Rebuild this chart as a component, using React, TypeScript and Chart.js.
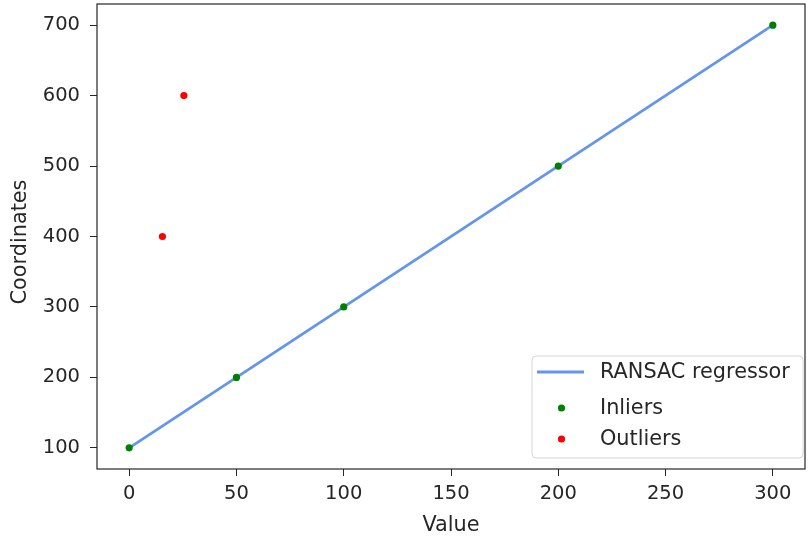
import React, { useEffect, useRef } from "react";
import { Chart, registerables } from "chart.js";

Chart.register(...registerables);

const lineX = [0, 300];
const lineY = [100, 700];
const inlierX = [0, 50, 100, 200, 300];
const inlierY = [100, 200, 300, 500, 700];
const outlierX = [15.5, 25.5];
const outlierY = [400, 600];
const xTicks = [0, 50, 100, 150, 200, 250, 300];
const yTicks = [100, 200, 300, 400, 500, 600, 700];
const seriesNames = ["RANSAC regressor", "Inliers", "Outliers"];
const seriesColors = ["#6495ED", "#008000", "#ff0000"];
const xTitle = "Value";
const yTitle = "Coordinates";

const FONT = "'DejaVu Sans', sans-serif";
const TEXT = "#262626";

const frameAndLegend = {
  id: "frameAndLegend",
  afterDraw(chart: any) {
    const { ctx, chartArea } = chart;
    ctx.save();
    ctx.strokeStyle = "#262626";
    ctx.lineWidth = 1.2;
    ctx.strokeRect(chartArea.left, chartArea.top, chartArea.right - chartArea.left, chartArea.bottom - chartArea.top);

    // y title
    ctx.save();
    ctx.translate(20.5, 242);
    ctx.rotate(-Math.PI / 2);
    ctx.font = `20.8px ${FONT}`;
    ctx.fillStyle = TEXT;
    ctx.textAlign = "center";
    ctx.textBaseline = "middle";
    ctx.fillText(yTitle, 0, 0);
    ctx.restore();

    // legend
    const bx = 532, by = 356, bw = 271, bh = 102, r = 4;
    ctx.beginPath();
    ctx.moveTo(bx + r, by);
    ctx.arcTo(bx + bw, by, bx + bw, by + bh, r);
    ctx.arcTo(bx + bw, by + bh, bx, by + bh, r);
    ctx.arcTo(bx, by + bh, bx, by, r);
    ctx.arcTo(bx, by, bx + bw, by, r);
    ctx.closePath();
    ctx.fillStyle = "rgba(255,255,255,0.8)";
    ctx.fill();
    ctx.strokeStyle = "#d5d5d5";
    ctx.lineWidth = 1;
    ctx.stroke();

    const rows = [372, 408, 439];
    ctx.font = `20.8px ${FONT}`;
    ctx.textBaseline = "middle";
    ctx.textAlign = "left";
    rows.forEach((y, i) => {
      if (i === 0) {
        ctx.strokeStyle = seriesColors[0];
        ctx.lineWidth = 2.8;
        ctx.beginPath();
        ctx.moveTo(537, y);
        ctx.lineTo(584, y);
        ctx.stroke();
      } else {
        ctx.fillStyle = seriesColors[i];
        ctx.beginPath();
        ctx.arc(561.5, y, 3.6, 0, Math.PI * 2);
        ctx.fill();
      }
      ctx.fillStyle = TEXT;
      ctx.fillText(seriesNames[i], 600, y + 1);
    });
    ctx.restore();
  },
};

export default function App() {
  const ref = useRef<HTMLCanvasElement | null>(null);
  useEffect(() => {
    if (!ref.current) return;
    const toPts = (xs: number[], ys: number[]) => xs.map((x, i) => ({ x, y: ys[i] }));
    const chart = new Chart(ref.current, {
      type: "scatter",
      data: {
        datasets: [
          {
            label: seriesNames[1],
            data: toPts(inlierX, inlierY),
            backgroundColor: seriesColors[1],
            borderWidth: 0,
            pointRadius: 3.6,
            order: 0,
          },
          {
            label: seriesNames[2],
            data: toPts(outlierX, outlierY),
            backgroundColor: seriesColors[2],
            borderWidth: 0,
            pointRadius: 3.6,
            order: 0,
          },
          {
            label: seriesNames[0],
            data: toPts(lineX, lineY),
            showLine: true,
            borderColor: seriesColors[0],
            borderWidth: 2.8,
            pointRadius: 0,
            order: 1,
          } as any,
        ],
      },
      options: {
        animation: false,
        responsive: false,
        devicePixelRatio: 1,
        layout: { padding: { top: 4, right: 3, left: 0, bottom: 0 } },
        plugins: { legend: { display: false }, tooltip: { enabled: false } },
        scales: {
          x: {
            type: "linear",
            min: -15,
            max: 315,
            afterBuildTicks: (s: any) => {
              s.ticks = xTicks.map((v) => ({ value: v }));
            },
            afterFit: (s: any) => {
              s.height = 70;
              s.paddingLeft = 0;
              s.paddingRight = 0;
            },
            grid: { drawOnChartArea: false, drawTicks: true, tickLength: 7, tickColor: "#262626", tickWidth: 1 },
            border: { display: false },
            ticks: { color: TEXT, font: { family: FONT, size: 19.5 }, padding: 6, maxRotation: 0 },
            title: { display: true, text: xTitle, color: TEXT, font: { family: FONT, size: 20.8 }, padding: { top: 0, bottom: 1 } },
          },
          y: {
            type: "linear",
            min: 70,
            max: 730,
            afterBuildTicks: (s: any) => {
              s.ticks = yTicks.map((v) => ({ value: v }));
            },
            afterFit: (s: any) => {
              s.width = 97;
              s.paddingTop = 0;
              s.paddingBottom = 0;
            },
            grid: { drawOnChartArea: false, drawTicks: true, tickLength: 7, tickColor: "#262626", tickWidth: 1 },
            border: { display: false },
            ticks: { color: TEXT, font: { family: FONT, size: 19.5 }, padding: 10 },
            title: { display: false },
          },
        },
      },
      plugins: [frameAndLegend],
    });
    return () => chart.destroy();
  }, []);
  return (
    <div style={{ position: "absolute", left: 0, top: 0, width: 809, height: 539, background: "#fff" }}>
      <canvas ref={ref} width={809} height={539} style={{ width: 809, height: 539 }} />
    </div>
  );
}
